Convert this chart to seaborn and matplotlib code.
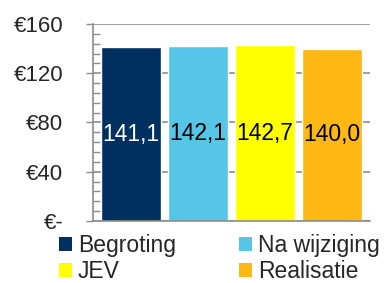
import matplotlib
matplotlib.use("Agg")
import matplotlib.pyplot as plt
import seaborn as sns
import pandas as pd
from matplotlib.ticker import MultipleLocator
from matplotlib.patches import Patch

categories = ["Begroting", "Na wijziging", "JEV", "Realisatie"]
values = [141.1, 142.1, 142.7, 140.0]
labels = ["141,1", "142,1", "142,7", "140,0"]
colors = ["#003060", "#56C5E8", "#FFFF00", "#FDB813"]
label_colors = ["white", "black", "black", "black"]
yticks = [0, 40, 80, 120, 160]
yticklabels = ["€-", "€40", "€80", "€120", "€160"]

sns.set_theme(style="white")
plt.rcParams['font.family'] = ['Liberation Sans', 'DejaVu Sans']

df = pd.DataFrame({"cat": categories, "val": values})

fig = plt.figure(figsize=(3.86, 2.83), dpi=100)
ax = fig.add_axes([93/386, 1-221/283, 277/386, 197/283])
sns.barplot(data=df, x="cat", y="val", hue="cat", palette=colors, order=categories,
            hue_order=categories, width=60/67, legend=False, ax=ax, saturation=1)

ax.set_xlim(-0.567, 3.567)
ax.set_ylim(0, 160)
ax.set_yticks(yticks)
ax.set_yticklabels(yticklabels, fontsize=16)
ax.yaxis.set_minor_locator(MultipleLocator(8))
ax.tick_params(axis='y', which='major', direction='out', length=5, color='#8c8c8c', width=1, left=True, pad=16.5)
ax.tick_params(axis='y', which='minor', direction='in', length=5, color='#8c8c8c', width=1, left=True)
ax.set_xticks([])
ax.set_xlabel("")
ax.set_ylabel("")
ax.grid(axis='y', which='major', color='#8c8c8c', linewidth=1.2, zorder=0)
ax.set_axisbelow(True)
for s in ["top", "right"]:
    ax.spines[s].set_visible(False)
ax.spines["left"].set_color('#8c8c8c')
ax.spines["bottom"].set_color('#8c8c8c')
ax.spines["left"].set_linewidth(1.2)
ax.spines["bottom"].set_linewidth(1.2)

for i, (v, lab, lc) in enumerate(zip(values, labels, label_colors)):
    ax.text(i, v / 2, lab, ha='center', va='center', fontsize=16.5, color=lc)

# row-major legend order for 2 columns
order = [0, 2, 1, 3]
handles = [Patch(facecolor=colors[k], edgecolor='none') for k in order]
leg_labels = [categories[k] for k in order]
fig.legend(handles, leg_labels, loc='upper left', bbox_to_anchor=(59/386, 1-234/283),
           ncol=2, frameon=False, fontsize=16.5, handlelength=0.57, handleheight=0.57,
           handletextpad=0.26, columnspacing=2.75, labelspacing=0.15, borderaxespad=0,
           borderpad=0)

fig.savefig("out.png", dpi=100)
